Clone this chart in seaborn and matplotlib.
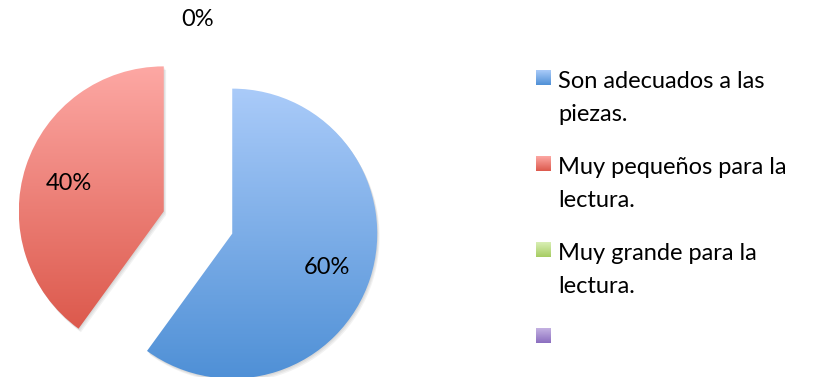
import matplotlib
matplotlib.use("Agg")
import matplotlib.pyplot as plt
from matplotlib.colors import LinearSegmentedColormap
from matplotlib.patches import Wedge
import seaborn as sns
import numpy as np

# survey answers
categories = ["Son adecuados a las\npiezas.", "Muy pequeños para la\nlectura.",
              "Muy grande para la\nlectura.", ""]
values = [60, 40, 0, 0]
show_pct = [True, True, True, False]
top_colors = ["#aacbf9", "#fda8a4", "#d9efb5", "#c4b2e2"]
bottom_colors = ["#4f90d6", "#dc594c", "#a6cc62", "#8b6ebf"]

W, H = 819, 377
CENTER = (198, 154.5)
RADIUS = 145
EXPLODE = 36

sns.set_theme(style="white")
plt.rcParams["font.family"] = ["Lato", "DejaVu Sans"]

fig = plt.figure(figsize=(W / 100, H / 100), dpi=100)
ax = fig.add_axes([0, 0, 1, 1])


def gradient_fill(ax, x0, x1, y0, y1, top, bottom, clip=None, zorder=2):
    cmap = LinearSegmentedColormap.from_list("g", [top, bottom])
    grad = np.linspace(0, 1, 256).reshape(-1, 1)
    im = ax.imshow(grad, cmap=cmap, extent=[x0, x1, y0, y1], origin="upper",
                   aspect="auto", interpolation="bilinear", zorder=zorder)
    if clip is not None:
        im.set_clip_path(clip)
    return im


wedges, _ = ax.pie(values, startangle=90, counterclock=False, radius=RADIUS,
                   center=CENTER, explode=[EXPLODE if v > 0 else 0 for v in values],
                   wedgeprops=dict(linewidth=0))

total = sum(values)
for w, v, top, bottom, show in zip(wedges, values, top_colors, bottom_colors, show_pct):
    w.set_facecolor("none")
    cx, cy = w.center
    if v > 0:
        # soft shadow
        for k in range(1, 4):
            ax.add_patch(Wedge((cx + k * 0.8, cy - k * 1.2), w.r, w.theta1, w.theta2,
                               facecolor="black", alpha=0.05, lw=0, zorder=1))
        bb = w.get_path().get_extents()
        gradient_fill(ax, bb.x0, bb.x1, bb.y0, bb.y1, top, bottom, clip=w)
    if not show:
        continue
    tm = np.deg2rad((w.theta1 + w.theta2) / 2)
    d = 0.69 * w.r if v > 0 else 1.4 * w.r
    ax.text(cx + d * np.cos(tm), cy + d * np.sin(tm) - (3 if v > 0 else 0),
            f"{v / total * 100:.0f}%",
            ha="center", va="center", fontsize=17, color="black", zorder=5)

# legend
for i, (label, top, bottom) in enumerate(zip(categories, top_colors, bottom_colors)):
    y_top = H - 70 - i * 86
    gradient_fill(ax, 536, 551, y_top - 15, y_top, top, bottom)
    ax.text(558, y_top - 1, label, ha="left", va="top", fontsize=17,
            linespacing=1.7, color="black")

ax.set_xlim(0, W)
ax.set_ylim(0, H)
ax.axis("off")

fig.savefig("out.png", dpi=100)
